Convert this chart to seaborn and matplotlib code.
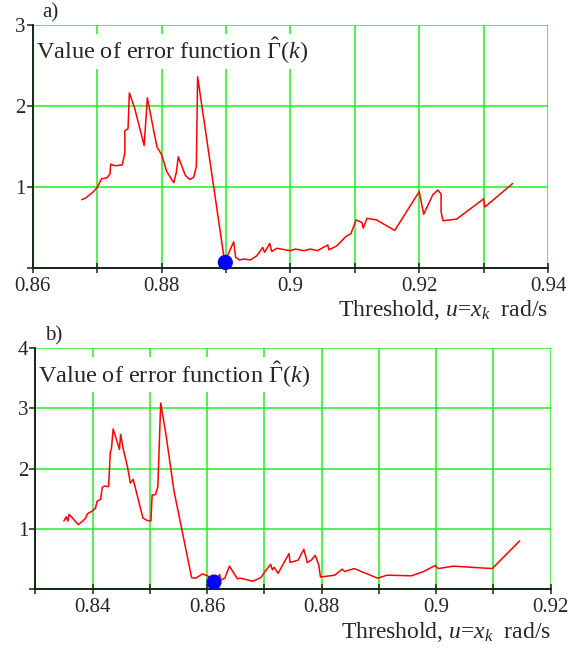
import numpy as np
import pandas as pd
import matplotlib
matplotlib.use("Agg")
import matplotlib.pyplot as plt
import seaborn as sns

# ---------------- data ----------------
xa = [0.8676, 0.8682, 0.8693, 0.8700, 0.8707, 0.8715, 0.8720, 0.8721, 0.8728, 0.8739,
      0.8743, 0.8743, 0.8748, 0.8750, 0.8758, 0.8773, 0.8778, 0.8786, 0.8793, 0.8800,
      0.8808, 0.8819, 0.8823, 0.8826, 0.8837, 0.8844, 0.8850, 0.8854, 0.8856, 0.8898,
      0.8912, 0.8915, 0.8921, 0.8928, 0.8938, 0.8948, 0.8957, 0.8960, 0.8968, 0.8971,
      0.8979, 0.9000, 0.9008, 0.9021, 0.9031, 0.9042, 0.9058, 0.9060, 0.9072, 0.9087,
      0.9094, 0.9102, 0.9111, 0.9113, 0.9119, 0.9134, 0.9162, 0.9200, 0.9207, 0.9221,
      0.9229, 0.9234, 0.9234, 0.9237, 0.9258, 0.9300, 0.9302, 0.9345]
ya = [0.84, 0.86, 0.93, 0.99, 1.10, 1.11, 1.16, 1.28, 1.26, 1.27,
      1.42, 1.69, 1.72, 2.16, 1.98, 1.51, 2.10, 1.77, 1.49, 1.40,
      1.19, 1.05, 1.18, 1.37, 1.14, 1.09, 1.12, 1.25, 2.36, 0.07,
      0.32, 0.13, 0.095, 0.107, 0.095, 0.148, 0.25, 0.19, 0.30, 0.20,
      0.24, 0.21, 0.23, 0.21, 0.23, 0.21, 0.28, 0.22, 0.27, 0.39,
      0.42, 0.59, 0.56, 0.49, 0.61, 0.59, 0.46, 0.94, 0.66, 0.90,
      0.96, 0.91, 0.69, 0.58, 0.60, 0.85, 0.75, 1.04]
min_a = (0.8899, 0.065)

xb = [0.8350, 0.8354, 0.8357, 0.8359, 0.8365, 0.8375, 0.8383, 0.8388, 0.8391, 0.8400,
      0.8405, 0.8408, 0.8414, 0.8417, 0.8421, 0.8428, 0.8431, 0.8433, 0.8436, 0.8447,
      0.8449, 0.8454, 0.8461, 0.8466, 0.8471, 0.8488, 0.8495, 0.8502, 0.8504, 0.8510,
      0.8514, 0.8519, 0.8528, 0.8542, 0.8573, 0.8580, 0.8592, 0.8601, 0.8612, 0.8622,
      0.8624, 0.8631, 0.8639, 0.8653, 0.8658, 0.8680, 0.8694, 0.8701, 0.8711, 0.8714,
      0.8717, 0.8724, 0.8743, 0.8745, 0.8759, 0.8769, 0.8775, 0.8782, 0.8789, 0.8795,
      0.8798, 0.8823, 0.8836, 0.8840, 0.8857, 0.8898, 0.8914, 0.8957, 0.8978, 0.8998,
      0.9004, 0.9030, 0.9098, 0.9146]
yb = [1.13, 1.20, 1.13, 1.24, 1.18, 1.07, 1.13, 1.18, 1.25, 1.30,
      1.34, 1.46, 1.49, 1.69, 1.71, 1.70, 2.27, 2.33, 2.66, 2.32,
      2.57, 2.31, 2.03, 1.76, 1.82, 1.18, 1.14, 1.13, 1.56, 1.57,
      1.70, 3.09, 2.58, 1.64, 0.19, 0.18, 0.25, 0.22, 0.11, 0.24,
      0.15, 0.18, 0.38, 0.17, 0.18, 0.13, 0.19, 0.29, 0.41, 0.32,
      0.36, 0.26, 0.59, 0.44, 0.48, 0.66, 0.44, 0.48, 0.56, 0.40,
      0.20, 0.23, 0.33, 0.29, 0.34, 0.18, 0.23, 0.22, 0.29, 0.39,
      0.34, 0.38, 0.34, 0.80]
min_b = (0.8612, 0.115)

xticks_a = [0.86, 0.87, 0.88, 0.89, 0.90, 0.91, 0.92, 0.93, 0.94]
xlabels_a = ["0.86", "", "0.88", "", "0.9", "", "0.92", "", "0.94"]
yticks_a = [0, 1, 2, 3]
ylabels_a = ["", "1", "2", "3"]

xticks_b = [0.83, 0.84, 0.85, 0.86, 0.87, 0.88, 0.89, 0.90, 0.91, 0.92]
xlabels_b = ["", "0.84", "", "0.86", "", "0.88", "", "0.9", "", "0.92"]
yticks_b = [0, 1, 2, 3, 4]
ylabels_b = ["", "1", "2", "3", "4"]

title_txt = r"Value of error function $\hat{\Gamma}(k)$"
xlabel_txt = r"Threshold, $u$=$x_k$  rad/s"

# ---------------- style ----------------
sns.set_theme(style="white")
plt.rcParams["font.family"] = ["Liberation Serif", "DejaVu Serif"]
plt.rcParams["mathtext.fontset"] = "custom"
plt.rcParams["mathtext.rm"] = "Liberation Serif"
plt.rcParams["mathtext.it"] = "Liberation Serif:italic"
plt.rcParams["mathtext.bf"] = "Liberation Serif:bold"

GRID = "#22ee22"
AXC = "#142814"

fig = plt.figure(figsize=(5.73, 6.5), dpi=100)
ax_a = fig.add_axes([0.0571, 0.5882, 0.8993, 0.3733])
ax_b = fig.add_axes([0.0616, 0.0938, 0.8994, 0.3704])


def style_axis(ax, xt, xl, yt, yl, xlim, ylim, tag, lab_y):
    ax.set_xlim(*xlim)
    ax.set_ylim(*ylim)
    ax.set_xticks(xt)
    ax.set_xticklabels(xl)
    ax.set_yticks(yt)
    ax.set_yticklabels(yl)
    ax.grid(True, color=GRID, lw=1.1, zorder=0)
    ax.set_axisbelow(True)
    for s in ["top", "right"]:
        ax.spines[s].set_visible(False)
    for s in ["left", "bottom"]:
        ax.spines[s].set_color(AXC)
        ax.spines[s].set_linewidth(1.4)
        ax.spines[s].set_zorder(5)
    ax.tick_params(axis="x", direction="inout", length=7, width=1.1, color=AXC,
                   labelsize=15, pad=3, bottom=True)
    ax.tick_params(axis="y", direction="out", length=4, width=1.1, color=AXC,
                   labelsize=15, pad=1, left=True)
    ax.set_xlabel(xlabel_txt, fontsize=17, loc="right", labelpad=2)
    ax.set_ylabel("")
    ax.text(0.006, 0.955, title_txt, transform=ax.transAxes, fontsize=17.5,
            ha="left", va="top", zorder=3,
            bbox=dict(facecolor="white", edgecolor="none", pad=1.5))
    ax.text(0.018, lab_y, tag, transform=ax.transAxes, fontsize=15,
            ha="left", va="bottom")


dfa = pd.DataFrame({"x": xa, "y": ya})
dfb = pd.DataFrame({"x": xb, "y": yb})

sns.lineplot(data=dfa, x="x", y="y", ax=ax_a, color="#ff0000", lw=1.1,
             sort=False, estimator=None, zorder=4)
sns.scatterplot(x=[min_a[0]], y=[min_a[1]], ax=ax_a, color="#0000ff", s=120,
                edgecolor="none", zorder=6, clip_on=False)
style_axis(ax_a, xticks_a, xlabels_a, yticks_a, ylabels_a, (0.86, 0.94), (0, 3), "a)", 1.01)

sns.lineplot(data=dfb, x="x", y="y", ax=ax_b, color="#ff0000", lw=1.1,
             sort=False, estimator=None, zorder=4)
sns.scatterplot(x=[min_b[0]], y=[min_b[1]], ax=ax_b, color="#0000ff", s=120,
                edgecolor="none", zorder=6, clip_on=False)
style_axis(ax_b, xticks_b, xlabels_b, yticks_b, ylabels_b, (0.83, 0.92), (0, 4), "b)", 1.01)

fig.savefig("out.png", dpi=100)
